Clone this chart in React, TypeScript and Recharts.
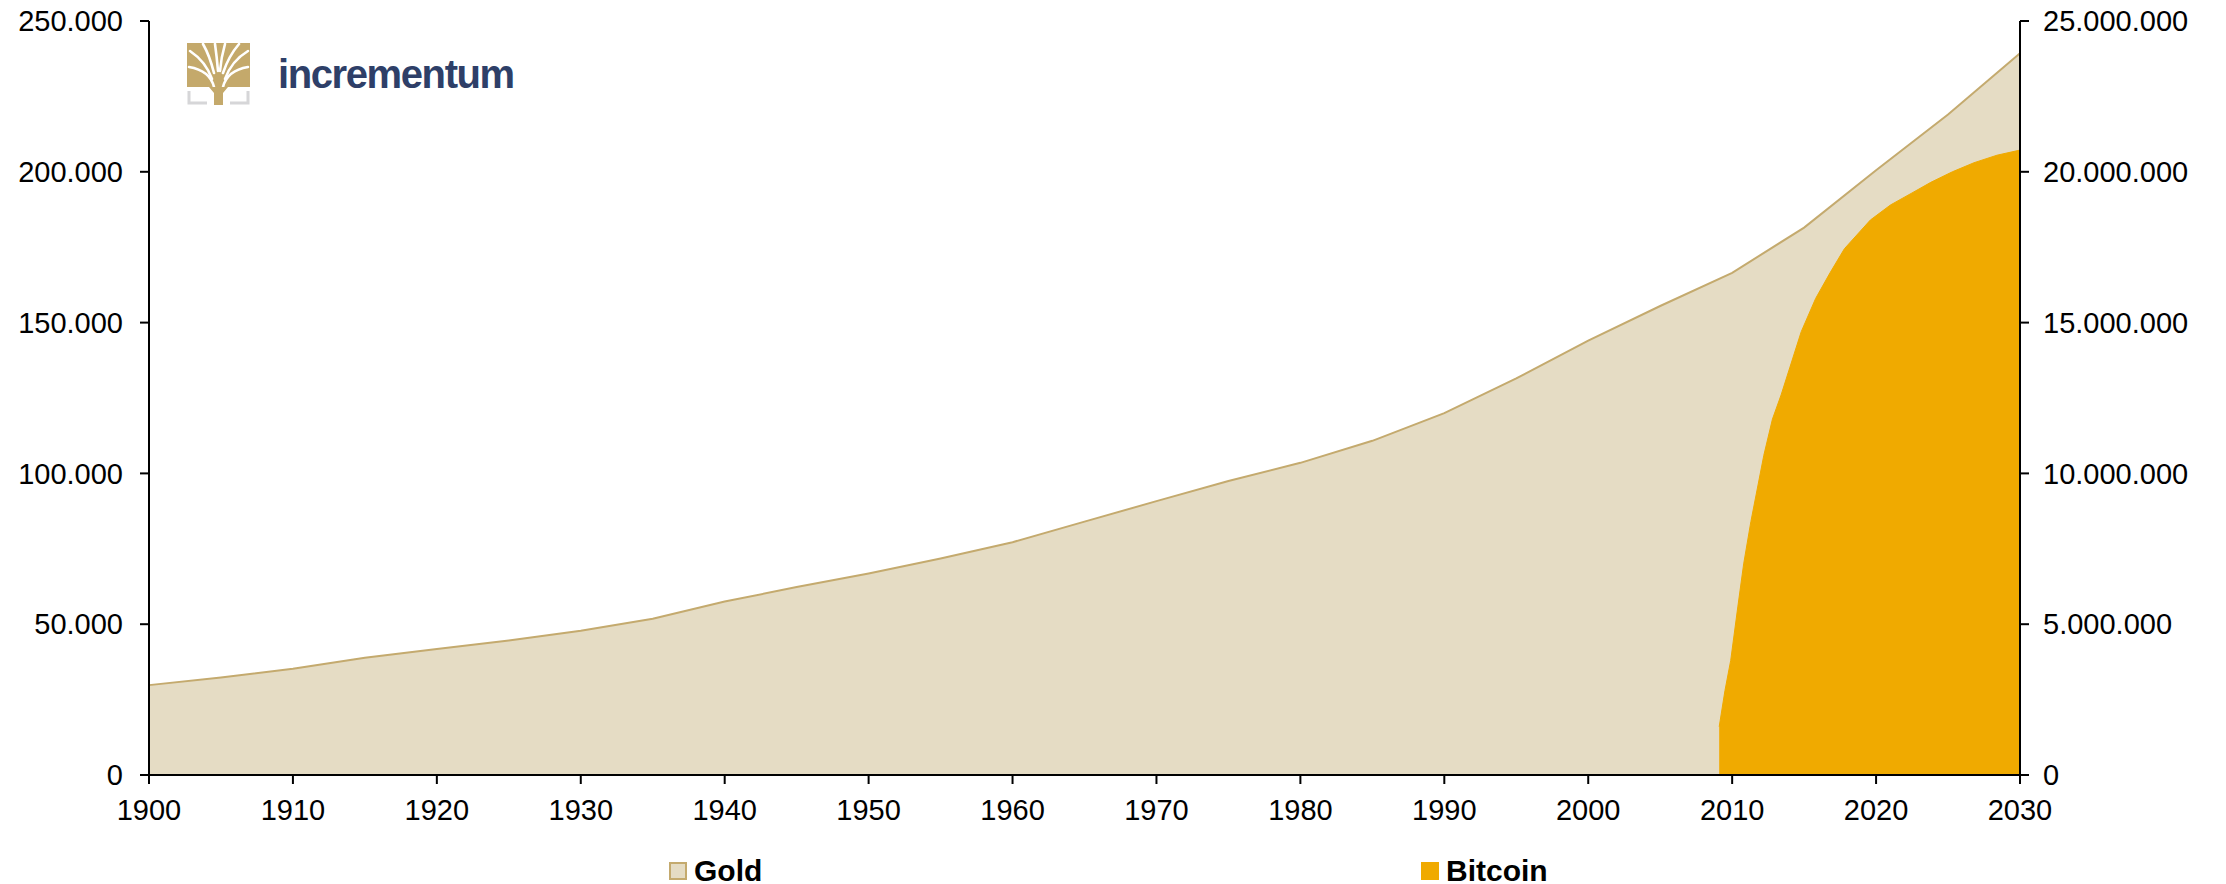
import { Area, AreaChart, XAxis, YAxis } from "recharts";

// gold above-ground stock, tonnes (left axis)
const goldYears = [1900, 1905, 1910, 1915, 1920, 1925, 1930, 1935, 1940, 1945, 1950, 1955, 1960, 1965, 1970, 1975, 1980, 1985, 1990, 1995, 2000, 2005, 2010, 2015, 2020, 2025, 2030];
const goldTonnes = [29800, 32300, 35200, 38900, 41800, 44600, 47800, 51800, 57500, 62300, 66800, 71800, 77200, 84000, 90800, 97500, 103500, 110800, 120000, 131500, 144000, 155500, 166500, 181500, 200500, 219000, 239300];

// bitcoin supply, coins (right axis)
const btcYears = [2009.1, 2009.5, 2009.9, 2010.4, 2010.8, 2011.3, 2012.2, 2012.8, 2013.4, 2014.0, 2014.8, 2015.8, 2016.8, 2017.8, 2019.6, 2021.0, 2022.5, 2023.8, 2025.3, 2026.8, 2028.4, 2030];
const btcSupply = [1600000, 2800000, 3800000, 5600000, 7000000, 8400000, 10600000, 11800000, 12600000, 13500000, 14700000, 15800000, 16650000, 17450000, 18400000, 18900000, 19300000, 19650000, 20000000, 20300000, 20550000, 20720000];

const xTicks = [1900, 1910, 1920, 1930, 1940, 1950, 1960, 1970, 1980, 1990, 2000, 2010, 2020, 2030];
const goldTicks = [0, 50000, 100000, 150000, 200000, 250000];
const btcTicks = [0, 5000000, 10000000, 15000000, 20000000, 25000000];

const goldMap = new Map(goldYears.map((y, i) => [y, goldTonnes[i]]));
const btcMap = new Map(btcYears.map((y, i) => [y, btcSupply[i]]));
const data = Array.from(new Set([...goldYears, ...btcYears]))
  .sort((a, b) => a - b)
  .map((year) => ({ year, gold: goldMap.get(year), bitcoin: btcMap.get(year) }));

const fmt = (v: number) => String(v).replace(/\B(?=(\d{3})+(?!\d))/g, ".");

const FONT = "'Liberation Sans', Arial, sans-serif";
const tickStyle = { fill: "#000", fontSize: 29, fontFamily: FONT };

function Logo() {
  return (
    <div style={{ position: "absolute", left: 187, top: 43, display: "flex", alignItems: "center" }}>
      <svg width={63} height={62} viewBox="0 0 63 62">
        <rect x={0} y={0} width={63} height={44} fill="#c4a96b" />
        <g stroke="#fff" strokeWidth={2.6} fill="none" strokeLinecap="round">
          <path d="M27 44 C24 32 14 26 2 24" />
          <path d="M25 36 C20 22 12 14 3 8" />
          <path d="M27 30 C24 18 20 8 16 1" />
          <path d="M31 28 C30 16 29 8 28 1" />
          <path d="M33 28 C34 16 36 8 38 1" />
          <path d="M36 30 C40 18 46 8 52 1" />
          <path d="M38 36 C43 22 51 14 61 8" />
          <path d="M36 44 C39 32 49 26 61 24" />
        </g>
        <rect x={0} y={44} width={22} height={18} fill="#fff" />
        <rect x={41} y={44} width={22} height={18} fill="#fff" />
        <path d="M22 44 L41 44 L36 50 L36 62 L27 62 L27 50 Z" fill="#c4a96b" />
        <g stroke="#d6d6d8" strokeWidth={3} fill="none">
          <path d="M2 48 L2 60 L20 60" />
          <path d="M61 48 L61 60 L43 60" />
        </g>
      </svg>
      <span
        style={{
          marginLeft: 28,
          fontFamily: FONT,
          fontWeight: 700,
          fontSize: 40,
          letterSpacing: -1.4,
          color: "#2e3f68",
          lineHeight: 1,
          marginTop: 0,
        }}
      >
        incrementum
      </span>
    </div>
  );
}

function LegendItem({ x, label, fill, border }: { x: number; label: string; fill: string; border: string }) {
  return (
    <div style={{ position: "absolute", left: x, top: 856, display: "flex", alignItems: "center" }}>
      <div style={{ width: 14, height: 14, background: fill, border: `2px solid ${border}`, marginRight: 7 }} />
      <span style={{ fontFamily: FONT, fontWeight: 700, fontSize: 30, color: "#000", lineHeight: 1 }}>{label}</span>
    </div>
  );
}

export default function App() {
  return (
    <div style={{ position: "absolute", left: 0, top: 0, width: 2226, height: 884, background: "#fff" }}>
      <AreaChart width={2226} height={884} data={data} margin={{ top: 21, right: 0, bottom: 69, left: 0 }}>
        <XAxis
          dataKey="year"
          type="number"
          domain={[1900, 2030]}
          ticks={xTicks}
          tick={tickStyle}
          tickSize={9}
          tickMargin={15}
          height={40}
          stroke="#000"
          strokeWidth={2}
          interval={0}
        />
        <YAxis
          yAxisId="gold"
          orientation="left"
          domain={[0, 250000]}
          ticks={goldTicks}
          tickFormatter={fmt}
          tick={tickStyle}
          tickSize={9}
          tickMargin={17}
          width={149}
          stroke="#000"
          strokeWidth={2}
          interval={0}
        />
        <YAxis
          yAxisId="btc"
          orientation="right"
          domain={[0, 25000000]}
          ticks={btcTicks}
          tickFormatter={fmt}
          tick={tickStyle}
          tickSize={9}
          tickMargin={14}
          width={206}
          stroke="#000"
          strokeWidth={2}
          interval={0}
        />
        <Area
          yAxisId="gold"
          type="linear"
          dataKey="gold"
          fill="#e5dcc4"
          fillOpacity={1}
          stroke="#c4aa6e"
          strokeWidth={2}
          connectNulls
          isAnimationActive={false}
          dot={false}
          activeDot={false}
        />
        <Area
          yAxisId="btc"
          type="linear"
          dataKey="bitcoin"
          fill="#f0aa00"
          fillOpacity={1}
          stroke="#f0aa00"
          strokeWidth={1}
          connectNulls
          isAnimationActive={false}
          dot={false}
          activeDot={false}
        />
      </AreaChart>
      <Logo />
      <LegendItem x={669} label="Gold" fill="#e5dcc4" border="#c4aa6e" />
      <LegendItem x={1421} label="Bitcoin" fill="#f0aa00" border="#f0aa00" />
    </div>
  );
}
